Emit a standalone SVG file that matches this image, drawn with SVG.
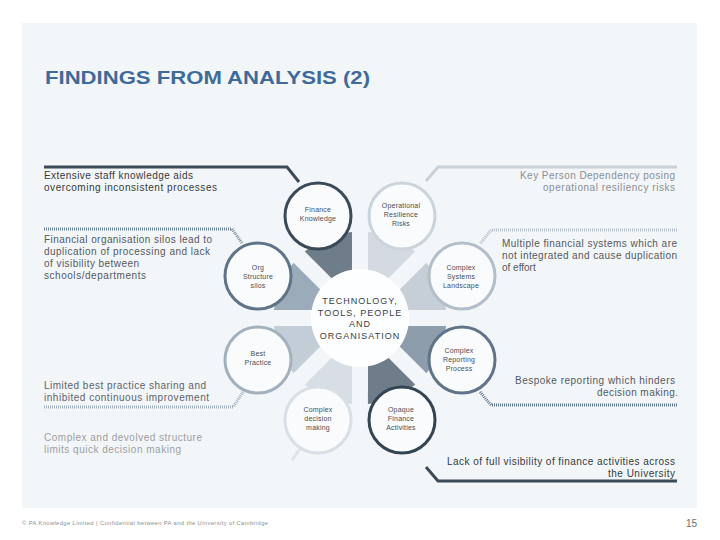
<svg xmlns="http://www.w3.org/2000/svg" width="720" height="540" viewBox="0 0 720 540">
  <defs>
    <path id="wedge" d="M 40 -7.93 L 82.5 -25.55 A 86.4 86.4 0 0 1 82.5 25.55 L 40 7.93 Z"/>
  </defs>
  <style>
    .side { font-family: "Liberation Sans", Arial, sans-serif; font-size: 10px; }
    .lbl { font-family: "Liberation Sans", Arial, sans-serif; font-size: 7px; fill: #4a4f55; text-anchor: middle; letter-spacing: 0.2px; }
    .ctr { font-family: "Liberation Sans", Arial, sans-serif; font-size: 9px; fill: #3a3f45; text-anchor: middle; letter-spacing: 1px; }
    .node { stroke-width: 3; fill: #f9fbfd; }
    .solid { fill: none; stroke-width: 3; stroke-linecap: butt; }
    .dot { fill: none; stroke-width: 3; stroke-dasharray: 1 1; }
  </style>
  <rect x="0" y="0" width="720" height="540" fill="#ffffff"/>
  <rect x="22" y="23" width="675" height="485" fill="#f3f6f9"/>
  <text x="45" y="84" font-family="'Liberation Sans', Arial, sans-serif" font-size="18" font-weight="bold" fill="#3f6b9b" textLength="325" lengthAdjust="spacingAndGlyphs">FINDINGS FROM ANALYSIS (2)</text>

  <g id="connectors">
    <polyline class="solid" stroke="#3d4b59" points="44,167 287,167 299,182"/>
    <polyline class="dot" stroke="#6f8497" points="44,229 232,229 242,243"/>
    <polyline class="dot" stroke="#a3b1be" points="44,407 233,407 243,392"/>
    <polyline class="solid" stroke="#dfe5ea" points="292,460 300,449"/>
    <polyline class="solid" stroke="#c9d1d9" points="677,167 438,167 426,181"/>
    <polyline class="dot" stroke="#b3bec9" points="677,230 491,230 480,244"/>
    <polyline class="dot" stroke="#5f7488" points="677,405 491,405 480,392"/>
    <polyline class="solid" stroke="#3d4b59" points="677,481 438,481 426,467"/>
  </g>

  <g id="wedges" transform="translate(360 318)">
    <use href="#wedge" transform="rotate(-112.5)" fill="#6f7c89"/>
    <use href="#wedge" transform="rotate(-67.5)" fill="#d3dae1"/>
    <use href="#wedge" transform="rotate(-22.5)" fill="#c6cfd8"/>
    <use href="#wedge" transform="rotate(22.5)" fill="#8e9dac"/>
    <use href="#wedge" transform="rotate(67.5)" fill="#6f7c89"/>
    <use href="#wedge" transform="rotate(112.5)" fill="#d7dee5"/>
    <use href="#wedge" transform="rotate(157.5)" fill="#c3cdd7"/>
    <use href="#wedge" transform="rotate(202.5)" fill="#9babba"/>
  </g>

  <g id="center">
    <circle cx="360" cy="318" r="49" fill="#fdfeff"/>
    <text class="ctr" x="360" y="304">TECHNOLOGY,</text>
    <text class="ctr" x="360" y="315.5">TOOLS, PEOPLE</text>
    <text class="ctr" x="360" y="327">AND</text>
    <text class="ctr" x="360" y="338.5">ORGANISATION</text>
  </g>

  <g id="finance-knowledge">
    <circle class="node" cx="318" cy="216" r="33" stroke="#3b4a58"/>
    <text class="lbl" x="318" y="212">Finance</text>
    <text class="lbl" x="318" y="221">Knowledge</text>
  </g>
  <g id="operational-resilience">
    <circle class="node" cx="402" cy="216" r="33" stroke="#cbd3db"/>
    <text class="lbl" x="401" y="208">Operational</text>
    <text class="lbl" x="401" y="217">Resilience</text>
    <text class="lbl" x="401" y="226">Risks</text>
  </g>
  <g id="complex-systems">
    <circle class="node" cx="462" cy="276" r="33" stroke="#b3bec9"/>
    <text class="lbl" x="461" y="270">Complex</text>
    <text class="lbl" x="461" y="279">Systems</text>
    <text class="lbl" x="461" y="288">Landscape</text>
  </g>
  <g id="complex-reporting">
    <circle class="node" cx="462" cy="360" r="33" stroke="#5f7488"/>
    <text class="lbl" x="459" y="353">Complex</text>
    <text class="lbl" x="459" y="362">Reporting</text>
    <text class="lbl" x="459" y="371">Process</text>
  </g>
  <g id="opaque-finance">
    <circle class="node" cx="402" cy="420" r="33" stroke="#354452"/>
    <text class="lbl" x="401" y="412">Opaque</text>
    <text class="lbl" x="401" y="421">Finance</text>
    <text class="lbl" x="401" y="430">Activities</text>
  </g>
  <g id="complex-decision">
    <circle class="node" cx="318" cy="420" r="33" stroke="#d8dfe6"/>
    <text class="lbl" x="318" y="412">Complex</text>
    <text class="lbl" x="318" y="421">decision</text>
    <text class="lbl" x="318" y="430">making</text>
  </g>
  <g id="best-practice">
    <circle class="node" cx="258" cy="360" r="33" stroke="#a3b1be"/>
    <text class="lbl" x="258" y="356">Best</text>
    <text class="lbl" x="258" y="365">Practice</text>
  </g>
  <g id="org-structure">
    <circle class="node" cx="258" cy="276" r="33" stroke="#5f7488"/>
    <text class="lbl" x="258" y="270">Org</text>
    <text class="lbl" x="258" y="279">Structure</text>
    <text class="lbl" x="258" y="288">silos</text>
  </g>

  <g id="text-left">
    <text class="side" fill="#333a40" x="44" y="179" textLength="149" lengthAdjust="spacing">Extensive staff knowledge aids</text>
    <text class="side" fill="#333a40" x="44" y="191" textLength="173" lengthAdjust="spacing">overcoming inconsistent processes</text>
    <text class="side" fill="#55595e" x="44" y="243" textLength="168" lengthAdjust="spacing">Financial organisation silos lead to</text>
    <text class="side" fill="#55595e" x="44" y="255" textLength="166" lengthAdjust="spacing">duplication of processing and lack</text>
    <text class="side" fill="#55595e" x="44" y="267" textLength="95" lengthAdjust="spacing">of visibility between</text>
    <text class="side" fill="#55595e" x="44" y="279" textLength="102" lengthAdjust="spacing">schools/departments</text>
    <text class="side" fill="#5e6368" x="44" y="389" textLength="162" lengthAdjust="spacing">Limited best practice sharing and</text>
    <text class="side" fill="#5e6368" x="44" y="401" textLength="165" lengthAdjust="spacing">inhibited continuous improvement</text>
    <text class="side" fill="#9a9ea3" x="44" y="441" textLength="158" lengthAdjust="spacing">Complex and devolved structure</text>
    <text class="side" fill="#9a9ea3" x="44" y="453" textLength="137" lengthAdjust="spacing">limits quick decision making</text>
  </g>
  <g id="text-right">
    <text class="side" fill="#8a8e93" x="675" y="179" text-anchor="end" textLength="155" lengthAdjust="spacing">Key Person Dependency posing</text>
    <text class="side" fill="#8a8e93" x="675" y="191" text-anchor="end" textLength="132" lengthAdjust="spacing">operational resiliency risks</text>
    <text class="side" fill="#55595e" x="502" y="247" textLength="175" lengthAdjust="spacing">Multiple financial systems which are</text>
    <text class="side" fill="#55595e" x="502" y="259" textLength="175" lengthAdjust="spacing">not integrated and cause duplication</text>
    <text class="side" fill="#55595e" x="502" y="271">of effort</text>
    <text class="side" fill="#55595e" x="675" y="384" text-anchor="end" textLength="160" lengthAdjust="spacing">Bespoke reporting which hinders</text>
    <text class="side" fill="#55595e" x="678" y="396" text-anchor="end" textLength="81" lengthAdjust="spacing">decision making.</text>
    <text class="side" fill="#333a40" x="675" y="465" text-anchor="end" textLength="228" lengthAdjust="spacing">Lack of full visibility of finance activities across</text>
    <text class="side" fill="#333a40" x="675" y="477" text-anchor="end" textLength="67" lengthAdjust="spacing">the University</text>
  </g>

  <g id="footer">
    <text x="22" y="525" font-family="'Liberation Sans', Arial, sans-serif" font-size="5.8" fill="#8a8e93" textLength="246" lengthAdjust="spacing">© PA Knowledge Limited | Confidential between PA and the University of Cambridge</text>
    <text x="697" y="527" font-family="'Liberation Sans', Arial, sans-serif" font-size="10" fill="#6a6e73" text-anchor="end">15</text>
  </g>
</svg>
